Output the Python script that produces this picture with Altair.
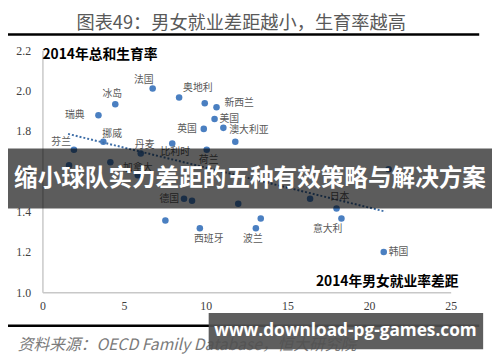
import altair as alt
import pandas as pd

# ---- data ----
countries = ["法国", "奥地利", "", "新西兰", "冰岛", "瑞典", "美国", "英国", "澳大利亚", "",
             "挪威", "比利时", "芬兰", "丹麦", "荷兰", "", "", "加拿大", "", "德国",
             "", "", "", "日本", "", "", "意大利", "西班牙", "波兰", "韩国"]
gap = [6.75, 8.37, 9.94, 10.66, 4.46, 3.43, 10.54, 9.88, 11.08, 11.81,
       3.73, 7.95, 1.93, 6.02, 10.06, 1.63, 4.16, 5.84, 21.2, 8.67,
       9.16, 11.99, 16.39, 18.01, 7.53, 13.37, 18.31, 9.64, 13.07, 20.9]
tfr = [2.010, 1.966, 1.937, 1.917, 1.932, 1.878, 1.859, 1.810, 1.815, 1.746,
       1.746, 1.737, 1.707, 1.688, 1.707, 1.629, 1.644, 1.580, 1.610, 1.463,
       1.454, 1.439, 1.463, 1.415, 1.356, 1.366, 1.366, 1.317, 1.317, 1.200]
trend_gap = [1.57, 21.0]
trend_tfr = [1.785, 1.400]
x_ticks = [0, 5, 10, 15, 20, 25]
y_ticks = [1.0, 1.2, 1.4, 1.6, 1.8, 2.0, 2.2]

title_text = "图表49：男女就业差距越小，生育率越高"
y_title = "2014年总和生育率"
x_title = "2014年男女就业率差距"
source_text = "资料来源：OECD Family Database，恒大研究院"
banner_text = "缩小球队实力差距的五种有效策略与解决方案"
watermark_text = "www.download-pg-games.com"

df = pd.DataFrame({"id": list(range(len(gap))), "name": countries, "gap": gap, "tfr": tfr})
trend_df = pd.DataFrame({"gap": trend_gap, "tfr": trend_tfr})
one = pd.DataFrame({"k": [0]})

# label placement styling (align, dx, dy)
label_style = {
    "法国": ("center", -9, -9), "奥地利": ("left", 4, -10), "新西兰": ("left", 8, -4),
    "冰岛": ("center", -3, -10), "瑞典": ("right", -14, 0), "美国": ("left", 5, 0),
    "英国": ("right", -7, 0), "澳大利亚": ("left", 6, 2), "挪威": ("center", 9, -8),
    "比利时": ("center", 3, 9), "芬兰": ("right", -3, -8), "丹麦": ("center", 4, -9),
    "荷兰": ("center", 2, 11), "加拿大": ("center", 0, -7), "德国": ("right", -5, 0),
    "日本": ("center", 3, -12), "意大利": ("center", -14, 11), "西班牙": ("center", 9, 11),
    "波兰": ("center", -3, 11), "韩国": ("left", 5, 0),
}

W, H = 415, 246
xs = alt.Scale(domain=[0, 25], nice=False, zero=False)
ys = alt.Scale(domain=[1.0, 2.2], nice=False, zero=False)

X = alt.X("gap:Q", scale=xs, axis=alt.Axis(values=x_ticks, title=None, grid=False, ticks=False,
          labelFont="Liberation Serif", labelFontSize=12, labelColor="#404040",
          domainColor="#c8c8c8", domainWidth=1.5, labelPadding=9, labelFlush=False))
Y = alt.Y("tfr:Q", scale=ys, axis=alt.Axis(values=y_ticks, format=".1f", title=None, grid=False,
          ticks=False, labelFont="Liberation Serif", labelFontSize=12, labelColor="#404040",
          domainColor="#c8c8c8", domainWidth=1.5, labelPadding=12, labelFlush=False))

points = alt.Chart(df).mark_circle(size=44, color="#4a7fc1", opacity=1).encode(x=X, y=Y)
trend = alt.Chart(trend_df).mark_line(color="#3f6fa8", strokeDash=[2, 2], strokeWidth=2).encode(
    x=alt.X("gap:Q", scale=xs), y=alt.Y("tfr:Q", scale=ys))

layers = [points, trend]
for n, (al, dx, dy) in label_style.items():
    layers.append(
        alt.Chart(df).transform_filter(alt.datum.name == n).mark_text(
            align=al, baseline="middle", dx=dx, dy=dy, font="Noto Sans CJK SC",
            fontSize=10, color="#595959").encode(
            x=alt.X("gap:Q", scale=xs), y=alt.Y("tfr:Q", scale=ys), text="name:N"))

ox, oy = 43, 48  # plot origin on the page

def txt(t, px, py, **kw):
    return alt.Chart(one).mark_text(text=t, **kw).encode(x=alt.value(px - ox), y=alt.value(py - oy))

def rule(x1, x2, py, w):
    return alt.Chart(one).mark_rule(color="#000000", strokeWidth=w).encode(
        x=alt.value(x1 - ox), x2=alt.value(x2 - ox), y=alt.value(py - oy))

def rect(x1, x2, y1, y2, fill, op):
    return alt.Chart(one).mark_rect(color=fill, opacity=op).encode(
        x=alt.value(x1 - ox), x2=alt.value(x2 - ox), y=alt.value(y1 - oy), y2=alt.value(y2 - oy))

layers += [
    txt(y_title, 43, 53, align="left", baseline="middle", font="Noto Sans CJK SC",
        fontSize=14, fontWeight="bold", color="#000000"),
    txt(x_title, 466, 284, align="right", baseline="middle", font="Noto Sans CJK SC",
        fontSize=14, fontWeight="bold", color="#000000"),
    txt(title_text, 245, 20, align="center", baseline="middle", font="Noto Sans CJK SC",
        fontSize=18.5, color="#595959"),
    rule(8, 487, 32, 2.5),
    rule(8, 487, 328, 2.5),
    txt(source_text, 18, 348, align="left", baseline="middle", font="Noto Sans CJK SC",
        fontSize=16, fontStyle="italic", color="#7a7a7a"),
    rect(8, 500, 148, 209, "#000000", 0.64),
    txt(banner_text, 254, 179, align="center", baseline="middle", font="Noto Sans CJK SC",
        fontSize=24, fontWeight="bold", color="#ffffff"),
    rect(212, 491, 315, 352, "#505050", 0.92),
    txt(watermark_text, 351, 334, align="center", baseline="middle", font="Open Sans",
        fontSize=17.5, fontWeight="bold", color="#ffffff"),
]

chart = alt.layer(*layers).properties(
    width=W, height=H,
    padding={"left": 35, "top": 40, "right": 42, "bottom": 68},
    autosize=alt.AutoSizeParams(type="none"),
    background="#ffffff",
).configure_view(stroke=None)

chart.save("out.html", embed_options={"renderer": "svg", "actions": False})
